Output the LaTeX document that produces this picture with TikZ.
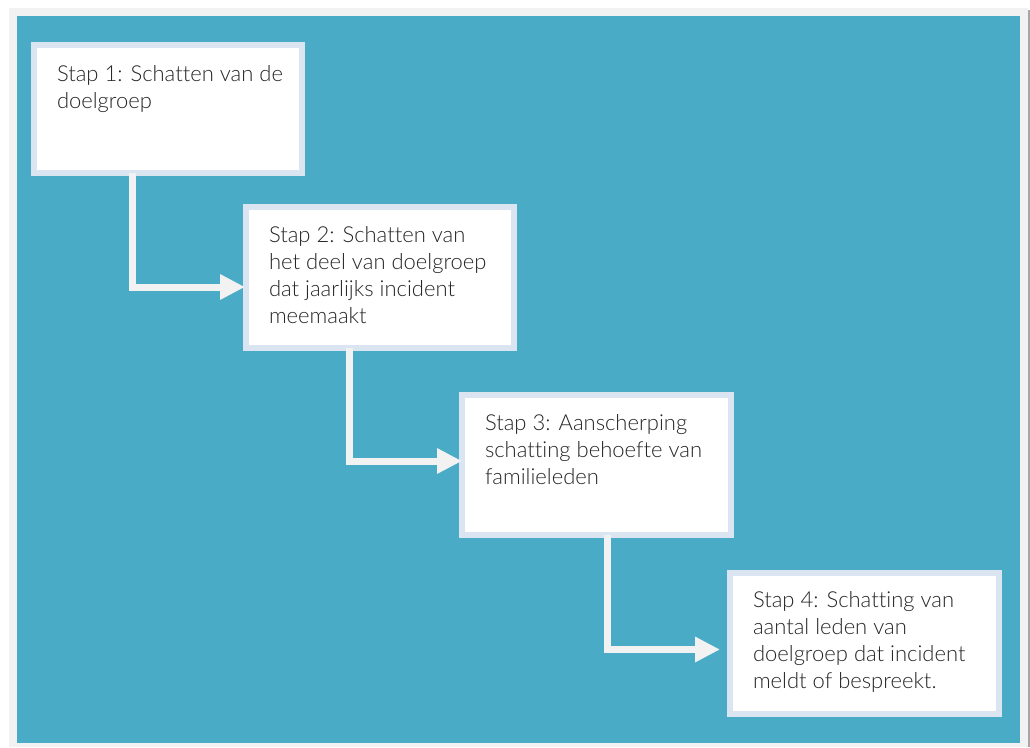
\documentclass[tikz,border=0pt]{standalone}
\usepackage{fontspec}
\IfFontExistsTF{Lato Light}{\setmainfont{Lato Light}[Ligatures=NoCommon]}{\setmainfont{Lato}[Ligatures=NoCommon]}
\usetikzlibrary{arrows.meta}
\definecolor{teal}{HTML}{4AABC6}
\definecolor{frame}{HTML}{F2F2F2}
\definecolor{boxline}{HTML}{DBE5F1}
\definecolor{txt}{HTML}{262626}
\tikzset{
  stepbox/.style={draw=boxline, line width=6pt, fill=white, rectangle, inner sep=0pt, outer sep=0pt, anchor=north west},
  steptext/.style={anchor=base west, inner sep=0pt, outer sep=0pt, align=left, text=txt, font=\fontsize{22}{27}\selectfont},
  arr/.style={draw=frame, line width=7pt, line join=miter, -{Triangle[length=25pt,width=24pt]}}
}
\begin{document}
\begin{tikzpicture}[x=1pt,y=-1pt]
\useasboundingbox[fill=white] (0,0) rectangle (1030,747);
\fill[frame] (9,8) rectangle (1028,747);
\fill[teal] (17,16) rectangle (1020,743);
\draw[black!35, line width=1.5pt] (1029,10) -- (1029,747);
% boxes
\node[stepbox, minimum width=268pt, minimum height=128pt] (b1) at (34,45) {};
\node[stepbox, minimum width=268pt, minimum height=141pt] (b2) at (246,207) {};
\node[stepbox, minimum width=269pt, minimum height=140pt] (b3) at (462,395) {};
\node[stepbox, minimum width=269pt, minimum height=141pt] (b4) at (730,573) {};
% texts (anchored at the baseline of their last line)
\node[steptext] (t1) at (57,108) {Stap 1: Schatten van de\\doelgroep};
\node[steptext] (t2) at (269,323) {Stap 2: Schatten van\\het deel van doelgroep\\dat jaarlijks incident\\meemaakt};
\node[steptext] (t3) at (485,484) {Stap 3: Aanscherping\\schatting behoefte van\\familieleden};
\node[steptext] (t4) at (753,688) {Stap 4: Schatting van\\aantal leden van\\doelgroep dat incident\\meldt of bespreekt.};
% connectors
\coordinate (k1) at (132,287);
\coordinate (k2) at (349,461);
\coordinate (k3) at (607,649.5);
\draw[arr] (b1.south -| k1) |- ([xshift=-1pt]b2.west |- k1);
\draw[arr] (b2.south -| k2) |- (b3.west |- k2);
\draw[arr] (b3.south -| k3) |- ([xshift=-10pt]b4.west |- k3);
\end{tikzpicture}
\end{document}
